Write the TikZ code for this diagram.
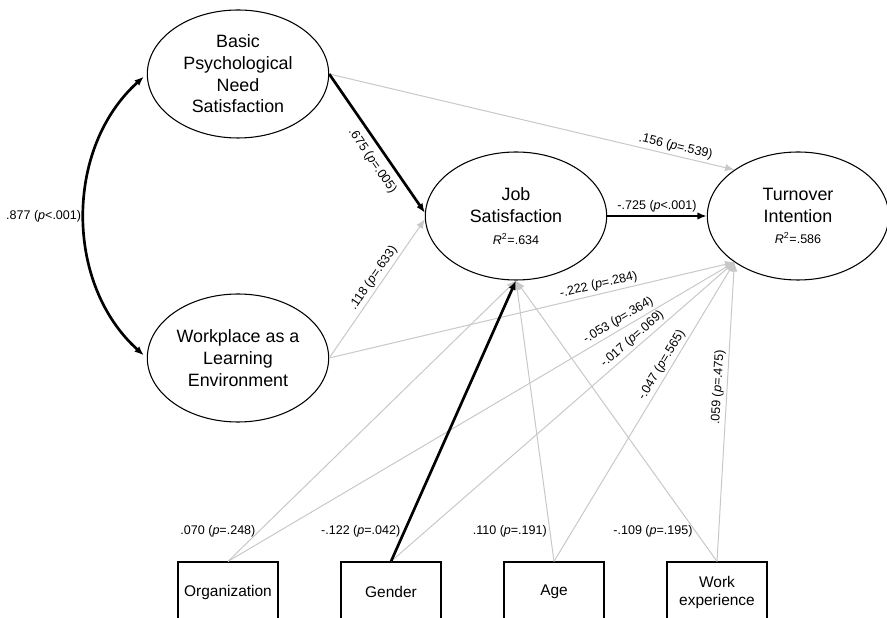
\documentclass[tikz,border=0pt]{standalone}
\usepackage{fontspec}
\setmainfont{Liberation Sans}
\usetikzlibrary{shapes.geometric,arrows.meta,positioning}
\definecolor{nsgray}{RGB}{200,200,200}

\begin{document}
\begin{tikzpicture}[
  x=0.75pt, y=0.75pt,
  latent/.style={ellipse, draw, line width=0.8pt, minimum width=136pt, minimum height=96pt, inner sep=0pt, align=center, font=\fontsize{13.4}{16.3}\selectfont},
  observed/.style={rectangle, draw, line width=0.9pt, minimum width=75pt, minimum height=45pt, inner sep=0pt, align=center, font=\fontsize{11.6}{13.5}\selectfont},
  sig/.style={->, line width=2pt, black},
  nonsig/.style={->, line width=0.75pt, nsgray},
  coef/.style={font=\fontsize{9.4}{11}\selectfont, text=black, inner sep=2pt},
  >={Latex[length=7pt,width=5.5pt]},
  node distance=2.5cm
]
\useasboundingbox (0,0) rectangle (887,617);

\node[latent] (bpns) at (238,543) {Basic\\Psychological\\Need\\Satisfaction};
\node[latent, below of=bpns, node distance=213pt] (wle) {Workplace as a\\Learning\\Environment};
\node[latent] (js) at (516,401) {Job\\Satisfaction\\{\fontsize{9.4}{11}\selectfont\textit{R}\textsuperscript{2}=.634}};
\node[latent, right of=js, node distance=211.5pt] (ti) {Turnover\\Intention\\{\fontsize{9.4}{11}\selectfont\textit{R}\textsuperscript{2}=.586}};

\node[observed] (org) at (228,25) {Organization};
\node[observed, right of=org, node distance=122.25pt] (gen) {Gender};
\node[observed, right of=gen, node distance=122.25pt] (age) {Age};
\node[observed, right of=age, node distance=122.25pt] (work) {Work\\experience};

% Covariance
\draw[sig, <->, shorten <=3pt, shorten >=3pt] (bpns.west) to[bend right=48] node[coef, left] {.877 (\textit{p}<.001)} (wle.west);

% Non-significant paths
\draw[nonsig] (wle.east) -- node[coef, sloped, above, pos=.54] {.118 (\textit{p}=.633)} (js.182);
\draw[nonsig] (bpns.east) -- node[coef, sloped, above, pos=.85] {.156 (\textit{p}=.539)} (ti.144);
\draw[nonsig] (wle.east) -- node[coef, sloped, above, pos=.67] {-.222 (\textit{p}=.284)} (ti.216);

% Control variables
\draw[nonsig] (org.north) -- node[coef, left, pos=.106] {.070 (\textit{p}=.248)} (js.south);
\draw[nonsig] (age.north) -- node[coef, left, pos=.106] {.110 (\textit{p}=.191)} (js.south);
\draw[nonsig] (work.north) -- node[coef, left, pos=.106] {-.109 (\textit{p}=.195)} (js.south);
\draw[nonsig] (org.north) -- node[coef, sloped, above, pos=.78] {-.053 (\textit{p}=.364)} (ti.216);
\draw[nonsig] (gen.north) -- node[coef, sloped, above, pos=.72] {-.017 (\textit{p}=.069)} (ti.216);
\draw[nonsig] (age.north) -- node[coef, sloped, above, pos=.64] {-.047 (\textit{p}=.565)} (ti.216);
\draw[nonsig] (work.north) -- node[coef, sloped, above, pos=.58] {.059 (\textit{p}=.475)} (ti.216);

% Significant paths
\draw[sig] (bpns.east) -- node[coef, sloped, below, pos=.57, inner sep=5pt] {.675 (\textit{p}=.005)} (js.178);
\draw[sig] (js.east) -- node[coef, above] {-.725 (\textit{p}<.001)} (ti.west);
\draw[sig] (gen.north) -- node[coef, left, pos=.106] {-.122 (\textit{p}=.042)} (js.south);
\end{tikzpicture}
\end{document}
